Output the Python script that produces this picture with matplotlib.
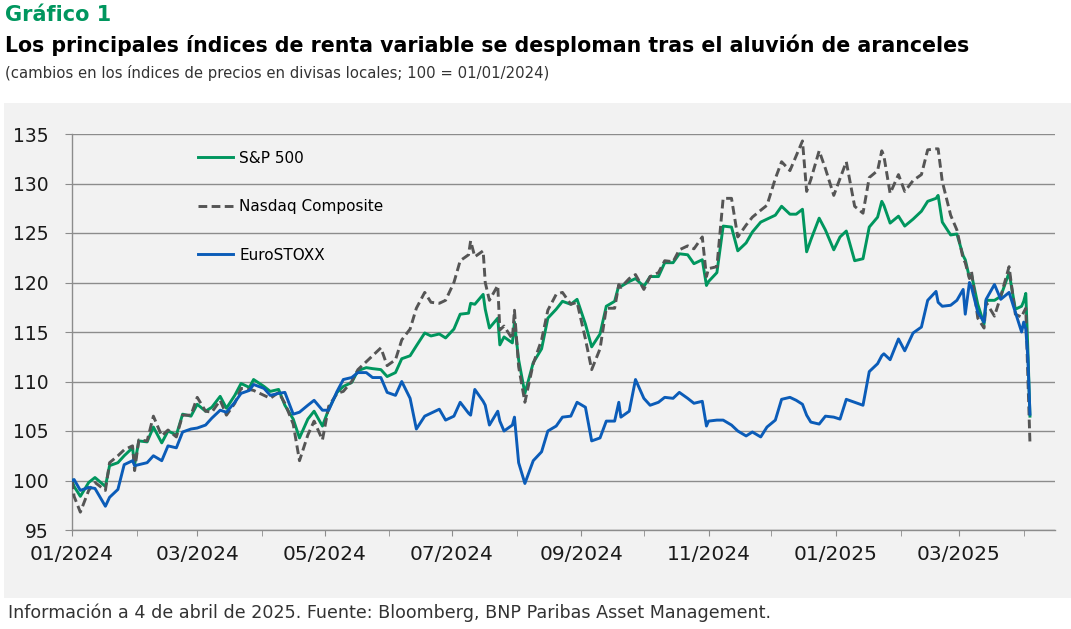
import pandas as pd
import matplotlib.pyplot as plt
import matplotlib.dates as mdates
from matplotlib.patches import Rectangle

# fechas de muestreo (aprox. dos por semana) y niveles base 100 = 01/01/2024
fechas = [
    "2024-01-01", "2024-01-02", "2024-01-05", "2024-01-09", "2024-01-12", "2024-01-17", "2024-01-19", "2024-01-23", "2024-01-26", "2024-01-30",
    "2024-01-31", "2024-02-02", "2024-02-06", "2024-02-09", "2024-02-13", "2024-02-16", "2024-02-20", "2024-02-23", "2024-02-27", "2024-03-01",
    "2024-03-05", "2024-03-08", "2024-03-12", "2024-03-15", "2024-03-19", "2024-03-22", "2024-03-26", "2024-03-28", "2024-04-02", "2024-04-05",
    "2024-04-09", "2024-04-12", "2024-04-16", "2024-04-19", "2024-04-23", "2024-04-26", "2024-04-30", "2024-05-03", "2024-05-07", "2024-05-10",
    "2024-05-14", "2024-05-17", "2024-05-21", "2024-05-24", "2024-05-28", "2024-05-31", "2024-06-04", "2024-06-07", "2024-06-11", "2024-06-14",
    "2024-06-18", "2024-06-21", "2024-06-25", "2024-06-28", "2024-07-02", "2024-07-05", "2024-07-09", "2024-07-10", "2024-07-12", "2024-07-16",
    "2024-07-17", "2024-07-19", "2024-07-23", "2024-07-24", "2024-07-26", "2024-07-30", "2024-07-31", "2024-08-02", "2024-08-05", "2024-08-09",
    "2024-08-13", "2024-08-16", "2024-08-20", "2024-08-23", "2024-08-27", "2024-08-30", "2024-09-03", "2024-09-06", "2024-09-10", "2024-09-13",
    "2024-09-17", "2024-09-19", "2024-09-20", "2024-09-24", "2024-09-27", "2024-10-01", "2024-10-04", "2024-10-08", "2024-10-11", "2024-10-15",
    "2024-10-18", "2024-10-22", "2024-10-25", "2024-10-29", "2024-10-31", "2024-11-01", "2024-11-05", "2024-11-08", "2024-11-12", "2024-11-15",
    "2024-11-19", "2024-11-22", "2024-11-26", "2024-11-29", "2024-12-03", "2024-12-06", "2024-12-10", "2024-12-13", "2024-12-16", "2024-12-18",
    "2024-12-20", "2024-12-24", "2024-12-27", "2024-12-31", "2025-01-03", "2025-01-06", "2025-01-10", "2025-01-14", "2025-01-17", "2025-01-21",
    "2025-01-23", "2025-01-24", "2025-01-27", "2025-01-31", "2025-02-03", "2025-02-07", "2025-02-11", "2025-02-14", "2025-02-18", "2025-02-19",
    "2025-02-21", "2025-02-25", "2025-02-28", "2025-03-03", "2025-03-04", "2025-03-06", "2025-03-07", "2025-03-10", "2025-03-13", "2025-03-14",
    "2025-03-18", "2025-03-21", "2025-03-25", "2025-03-28", "2025-03-31", "2025-04-01", "2025-04-02", "2025-04-03", "2025-04-04",
]

sp500 = [
    100, 99.4, 98.4, 99.8, 100.3, 99.4, 101.5, 101.8, 102.5, 103.3,
    101.6, 104.0, 103.9, 105.4, 103.8, 105.0, 104.6, 106.7, 106.5, 107.7,
    107.0, 107.4, 108.5, 107.3, 108.6, 109.8, 109.4, 110.2, 109.5, 109.0,
    109.2, 107.6, 106.2, 104.3, 106.2, 107.0, 105.5, 107.2, 108.9, 109.5,
    109.9, 111.1, 111.4, 111.3, 111.2, 110.5, 110.9, 112.3, 112.6, 113.6,
    114.9, 114.6, 114.8, 114.4, 115.3, 116.8, 116.9, 117.9, 117.8, 118.8,
    117.3, 115.4, 116.4, 113.7, 114.5, 113.9, 116.0, 112.2, 108.8, 111.9,
    113.3, 116.4, 117.3, 118.1, 117.8, 118.3, 115.8, 113.5, 114.8, 117.6,
    118.1, 119.7, 119.6, 120.1, 120.4, 119.6, 120.6, 120.6, 122.0, 122.0,
    122.9, 122.8, 121.9, 122.3, 119.7, 120.1, 121.0, 125.7, 125.6, 123.2,
    124.0, 125.1, 126.1, 126.4, 126.8, 127.7, 126.9, 126.9, 127.4, 123.1,
    124.3, 126.5, 125.3, 123.3, 124.6, 125.2, 122.2, 122.4, 125.6, 126.6,
    128.2, 127.8, 126.0, 126.7, 125.7, 126.4, 127.2, 128.2, 128.5, 128.8,
    126.1, 124.8, 124.9, 122.7, 122.3, 120.5, 120.8, 117.8, 115.8, 118.2,
    118.2, 118.6, 121.0, 117.3, 117.6, 118.1, 118.9, 113.2, 106.5,
]

nasdaq = [
    100, 98.4, 96.8, 99.0, 99.8, 99.0, 101.8, 102.5, 103.1, 103.5,
    101.0, 104.1, 104.0, 106.5, 104.5, 105.1, 104.4, 106.6, 106.6, 108.4,
    107.0, 106.9, 108.1, 106.6, 107.8, 109.3, 109.2, 109.1, 108.6, 108.3,
    108.9, 107.8, 105.7, 102.0, 104.6, 106.0, 104.1, 107.5, 108.8, 109.0,
    110.0, 111.2, 112.0, 112.6, 113.4, 111.6, 112.2, 114.2, 115.3, 117.4,
    119.0, 118.0, 117.9, 118.2, 120.0, 122.2, 122.8, 124.2, 122.6, 123.2,
    120.0, 118.2, 119.7, 115.2, 115.6, 114.3, 117.2, 111.5, 107.9, 111.8,
    114.2, 117.2, 118.8, 119.0, 117.8, 118.0, 114.3, 111.2, 113.3, 117.4,
    117.4, 119.8, 119.5, 120.4, 120.8, 119.3, 120.6, 121.0, 122.2, 122.1,
    123.3, 123.7, 123.4, 124.6, 120.6, 121.4, 121.6, 128.5, 128.5, 124.6,
    125.8, 126.6, 127.3, 127.8, 130.5, 132.2, 131.3, 132.8, 134.3, 129.2,
    130.4, 133.3, 131.5, 128.8, 130.5, 132.2, 127.7, 127.0, 130.6, 131.3,
    133.3, 132.8, 129.0, 130.9, 129.2, 130.3, 130.9, 133.4, 133.5, 133.5,
    130.2, 126.8, 125.3, 122.4, 122.0, 120.4, 121.1, 116.4, 115.4, 118.0,
    116.6, 118.6, 121.6, 116.8, 116.5, 117.0, 117.4, 110.4, 103.8,
]

eurostoxx = [
    100, 100.1, 99.0, 99.3, 99.2, 97.4, 98.3, 99.1, 101.6, 102.0,
    101.5, 101.6, 101.8, 102.5, 102.0, 103.5, 103.3, 104.9, 105.2, 105.3,
    105.6, 106.3, 107.1, 106.9, 107.9, 108.8, 109.1, 109.7, 109.3, 108.6,
    108.8, 108.9, 106.7, 106.9, 107.6, 108.1, 107.1, 107.1, 109.0, 110.2,
    110.4, 110.9, 110.9, 110.4, 110.4, 108.9, 108.6, 110.0, 108.3, 105.2,
    106.5, 106.8, 107.2, 106.1, 106.5, 107.9, 106.8, 106.6, 109.2, 108.0,
    107.6, 105.6, 107.0, 106.0, 105.0, 105.6, 106.4, 101.8, 99.7, 102.0,
    102.9, 105.0, 105.5, 106.4, 106.5, 107.9, 107.4, 104.0, 104.3, 106.0,
    106.0, 107.9, 106.4, 107.0, 110.2, 108.3, 107.6, 107.9, 108.4, 108.3,
    108.9, 108.3, 107.8, 108.0, 105.5, 106.0, 106.1, 106.1, 105.6, 105.0,
    104.5, 104.9, 104.4, 105.4, 106.1, 108.2, 108.4, 108.1, 107.7, 106.6,
    105.9, 105.7, 106.5, 106.4, 106.2, 108.2, 107.9, 107.6, 111.0, 111.8,
    112.6, 112.8, 112.2, 114.3, 113.1, 114.9, 115.5, 118.2, 119.1, 118.0,
    117.6, 117.7, 118.2, 119.3, 116.8, 120.0, 119.5, 117.0, 116.0, 118.3,
    119.8, 118.3, 119.0, 117.0, 115.0, 116.0, 115.3, 112.4, 106.7,
]

etiquetas = ["S&P 500", "Nasdaq Composite", "EuroSTOXX"]
yticks = [95, 100, 105, 110, 115, 120, 125, 130, 135]

verde = "#00965E"
gris = "#555555"
azul = "#0B5CB8"
fondo = "#F2F2F2"

x = pd.to_datetime(fechas)

fig = plt.figure(figsize=(10.71, 6.29), dpi=100)
fig.patch.set_facecolor("white")

# panel gris de fondo
fig.patches.append(Rectangle((4 / 1071, 31 / 629), 1 - 4 / 1071, (598 - 103) / 629,
                             transform=fig.transFigure, facecolor=fondo, edgecolor="none", zorder=-1))

fig.text(5 / 1071, 1 - 15 / 629, "Gráfico 1", color=verde, fontsize=15, fontweight="bold", va="center")
fig.text(5 / 1071, 1 - 45 / 629, "Los principales índices de renta variable se desploman tras el aluvión de aranceles",
         color="black", fontsize=14.8, fontweight="bold", va="center")
fig.text(5 / 1071, 1 - 73 / 629, "(cambios en los índices de precios en divisas locales; 100 = 01/01/2024)",
         color="#333333", fontsize=10.75, va="center")
fig.text(8 / 1071, 1 - 613 / 629,
         "Información a 4 de abril de 2025. Fuente: Bloomberg, BNP Paribas Asset Management.",
         color="#333333", fontsize=12.6, va="center")

ax = fig.add_axes([72 / 1071, 1 - 530 / 629, (1055 - 72) / 1071, (530 - 134) / 629])
ax.set_zorder(2)
ax.set_facecolor("none")

ax.plot(x, sp500, color=verde, lw=2.1, label=etiquetas[0], zorder=3)
ax.plot(x, nasdaq, color=gris, lw=2.1, dashes=(3, 1.5), label=etiquetas[1], zorder=4)
ax.plot(x, eurostoxx, color=azul, lw=2.1, label=etiquetas[2], zorder=5)

ax.set_ylim(95, 135)
ax.set_yticks(yticks)
ax.set_xlim(pd.Timestamp("2024-01-01"), pd.Timestamp("2025-04-16"))

ax.xaxis.set_major_locator(mdates.MonthLocator(bymonth=[1, 3, 5, 7, 9, 11]))
ax.xaxis.set_minor_locator(mdates.MonthLocator())
ax.xaxis.set_major_formatter(mdates.DateFormatter("%m/%Y"))

ax.grid(axis="y", color="#8C8C8C", lw=1)
ax.set_axisbelow(True)
for s in ["top", "right"]:
    ax.spines[s].set_visible(False)
for s in ["left", "bottom"]:
    ax.spines[s].set_color("#8C8C8C")
    ax.spines[s].set_linewidth(1)

ax.tick_params(axis="y", length=5, color="#8C8C8C", labelsize=13.5, pad=12, labelcolor="#1A1A1A")
ax.tick_params(axis="x", which="both", length=4, color="#8C8C8C", labelsize=14.5, pad=7, labelcolor="#1A1A1A")

ax.legend(loc="upper left", bbox_to_anchor=(0.114, 0.993), frameon=False, fontsize=11,
          handlelength=2.3, handletextpad=0.4, labelspacing=2.2)

fig.savefig("out.png", dpi=100, facecolor=fig.get_facecolor())
